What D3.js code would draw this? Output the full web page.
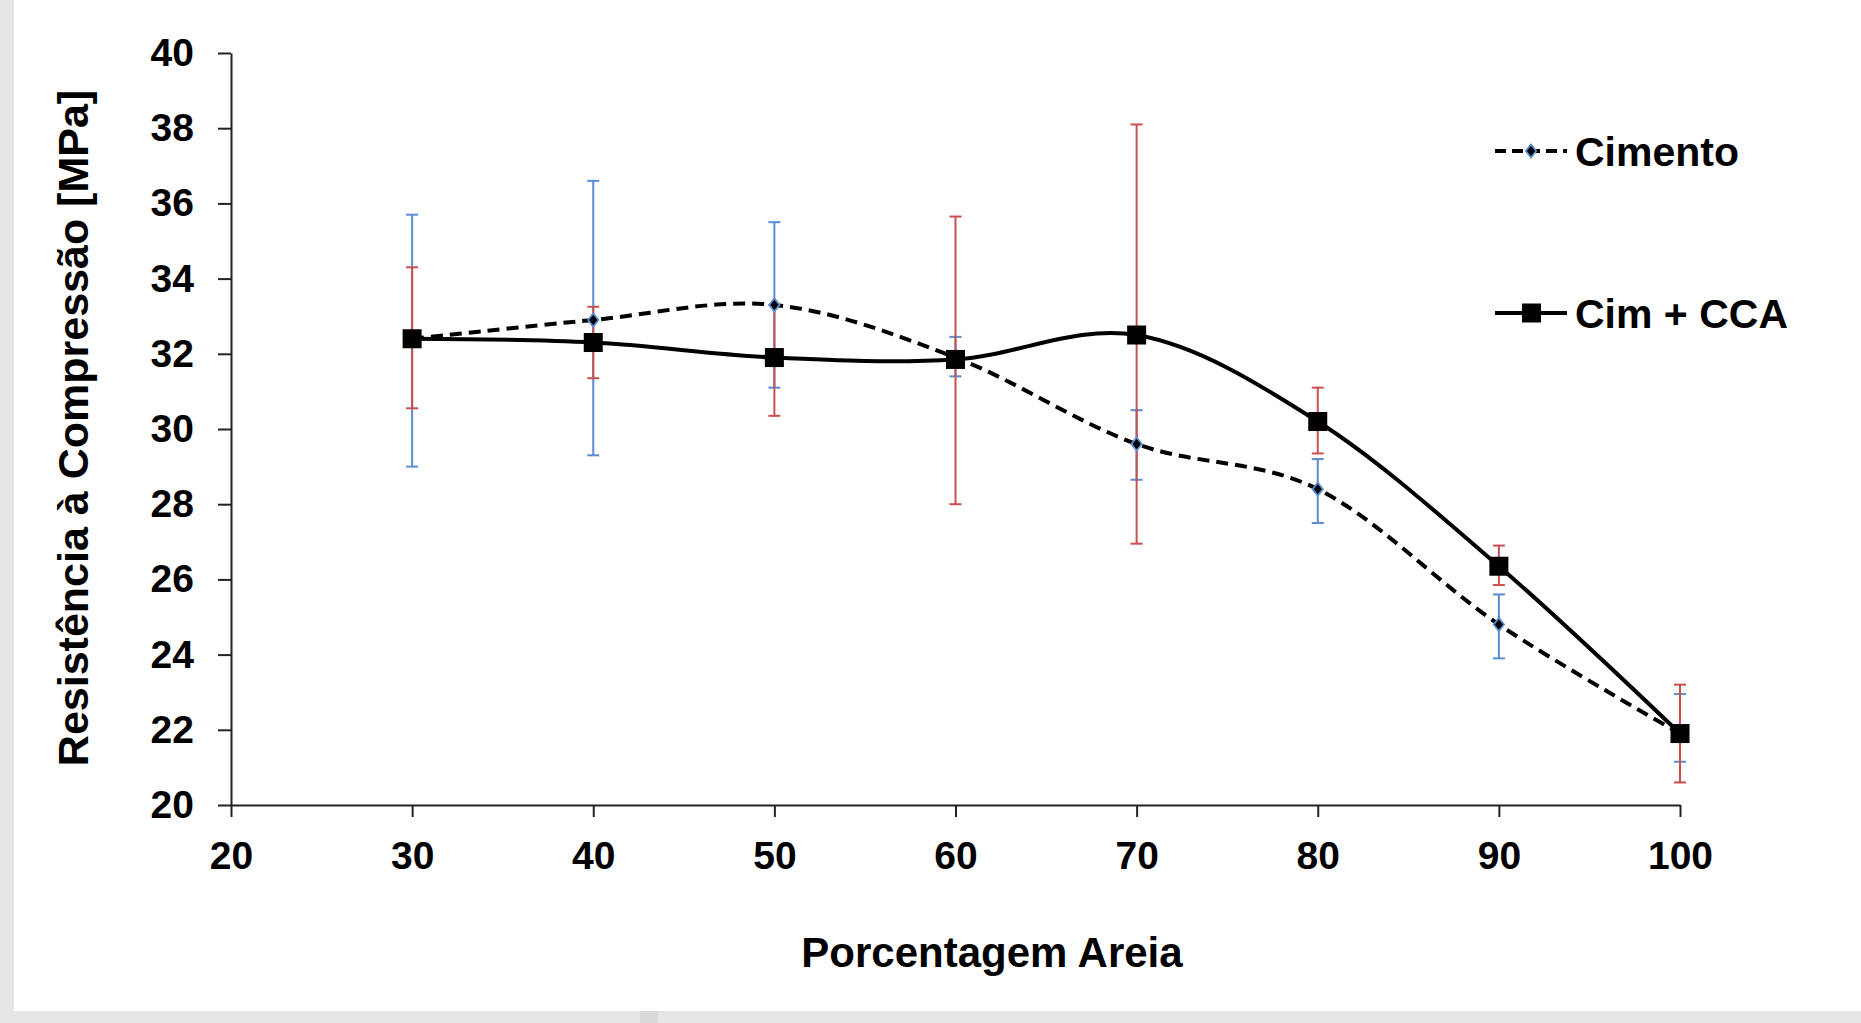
<!DOCTYPE html>
<html>
<head>
<meta charset="utf-8">
<script src="https://cdn.jsdelivr.net/npm/d3@7"></script>
<style>
  body { margin: 0; background: #fff; }
  text { font-family: "Liberation Sans", Arial, sans-serif; font-weight: bold; }
</style>
</head>
<body>
<div id="chart"></div>
<script>
// data
const percentages = [30, 40, 50, 60, 70, 80, 90, 100];

const cimento     = [32.4, 32.9, 33.3, 31.9, 29.6, 28.4, 24.8, 21.9];
const cimentoLow  = [29.0, 29.3, 31.1, 31.4, 28.65, 27.5, 23.9, 21.15];
const cimentoHigh = [35.7, 36.6, 35.5, 32.45, 30.5, 29.2, 25.6, 22.95];

const cimCca     = [32.4, 32.3, 31.9, 31.85, 32.5, 30.2, 26.35, 21.9];
const cimCcaLow  = [30.55, 31.35, 30.35, 28.0, 26.95, 29.35, 25.85, 20.6];
const cimCcaHigh = [34.3, 33.25, 33.3, 35.65, 38.1, 31.1, 26.9, 23.2];

const xTicks = [20, 30, 40, 50, 60, 70, 80, 90, 100];
const yTicks = [20, 22, 24, 26, 28, 30, 32, 34, 36, 38, 40];

const seriesNames = ["Cimento", "Cim + CCA"];

// layout
const width = 1861, height = 1023;
const plot = { left: 231, right: 1680, top: 53, bottom: 805 };

const svg = d3.select("#chart")
  .append("svg")
  .attr("width", width)
  .attr("height", height);

// grey frame (left + bottom strips of the screenshot)
svg.append("rect").attr("width", width).attr("height", height).attr("fill", "#e6e6e6");
svg.append("rect").attr("x", 640).attr("y", 1011).attr("width", 18).attr("height", 12).attr("fill", "#d9d9d9");
svg.append("rect").attr("x", 14).attr("y", 0).attr("width", width - 14).attr("height", 1011).attr("fill", "#fff");

const x = d3.scaleLinear().domain([20, 100]).range([plot.left, plot.right]);
const y = d3.scaleLinear().domain([20, 40]).range([plot.bottom, plot.top]);

// axes
const yAxis = svg.append("g")
  .attr("transform", "translate(" + plot.left + ",0)")
  .call(d3.axisLeft(y).tickValues(yTicks).tickSize(13).tickSizeOuter(0).tickPadding(24).tickFormat(d3.format("d")));

const xAxis = svg.append("g")
  .attr("transform", "translate(0," + plot.bottom + ")")
  .call(d3.axisBottom(x).tickValues(xTicks).tickSize(12).tickSizeOuter(0).tickPadding(24).tickFormat(d3.format("d")));

[yAxis, xAxis].forEach(a => {
  a.select(".domain").attr("stroke", "#222").attr("stroke-width", 2);
  a.selectAll(".tick line").attr("stroke", "#222").attr("stroke-width", 2);
  a.selectAll(".tick text")
    .attr("fill", "#000")
    .style("font-size", "39px")
    .style("font-family", "'Liberation Sans', Arial, sans-serif")
    .style("font-weight", "bold");
});

// axis titles
svg.append("text")
  .attr("x", 992)
  .attr("y", 967)
  .attr("text-anchor", "middle")
  .style("font-size", "42px")
  .text("Porcentagem Areia");

svg.append("text")
  .attr("transform", "translate(88,428) rotate(-90)")
  .attr("text-anchor", "middle")
  .style("font-size", "43px")
  .text("Resistência à Compressão [MPa]");

// error bars
function errorBars(low, high, color) {
  const g = svg.append("g").attr("stroke", color).attr("stroke-width", 2);
  percentages.forEach((p, i) => {
    const cx = x(p);
    g.append("line").attr("x1", cx).attr("x2", cx).attr("y1", y(low[i])).attr("y2", y(high[i]));
    g.append("line").attr("x1", cx - 6).attr("x2", cx + 6).attr("y1", y(low[i])).attr("y2", y(low[i]));
    g.append("line").attr("x1", cx - 6).attr("x2", cx + 6).attr("y1", y(high[i])).attr("y2", y(high[i]));
  });
}
errorBars(cimentoLow, cimentoHigh, "#5b8bd0");
errorBars(cimCcaLow, cimCcaHigh, "#c9504f");

// smoothed lines (Excel style)
const line = d3.line()
  .x(d => x(d[0]))
  .y(d => y(d[1]))
  .curve(d3.curveCardinal.tension(0));

svg.append("path")
  .datum(percentages.map((p, i) => [p, cimento[i]]))
  .attr("d", line)
  .attr("fill", "none")
  .attr("stroke", "#000")
  .attr("stroke-width", 4)
  .attr("stroke-dasharray", "12,7");

const diamond = s => "M0," + (-s) + "L" + (s * 0.8) + ",0L0," + s + "L" + (-s * 0.8) + ",0Z";

svg.append("g")
  .selectAll("path")
  .data(percentages.map((p, i) => [p, cimento[i]]))
  .join("path")
  .attr("transform", d => "translate(" + x(d[0]) + "," + y(d[1]) + ")")
  .attr("d", diamond(6.5))
  .attr("fill", "#000")
  .attr("stroke", "#5b8bd0")
  .attr("stroke-width", 1.8);

svg.append("path")
  .datum(percentages.map((p, i) => [p, cimCca[i]]))
  .attr("d", line)
  .attr("fill", "none")
  .attr("stroke", "#000")
  .attr("stroke-width", 4);

svg.append("g")
  .selectAll("rect")
  .data(percentages.map((p, i) => [p, cimCca[i]]))
  .join("rect")
  .attr("x", d => x(d[0]) - 9.5)
  .attr("y", d => y(d[1]) - 9.5)
  .attr("width", 19)
  .attr("height", 19)
  .attr("fill", "#000");

// legend
const legend = svg.append("g");
const legendY = [151, 313];

legend.append("line")
  .attr("x1", 1495).attr("x2", 1567).attr("y1", legendY[0]).attr("y2", legendY[0])
  .attr("stroke", "#000").attr("stroke-width", 4).attr("stroke-dasharray", "11,6");
legend.append("path")
  .attr("transform", "translate(1531," + legendY[0] + ")")
  .attr("d", diamond(6.5))
  .attr("fill", "#000").attr("stroke", "#5b8bd0").attr("stroke-width", 1.8);

legend.append("line")
  .attr("x1", 1495).attr("x2", 1567).attr("y1", legendY[1]).attr("y2", legendY[1])
  .attr("stroke", "#000").attr("stroke-width", 4);
legend.append("rect")
  .attr("x", 1522).attr("y", legendY[1] - 9.5).attr("width", 19).attr("height", 19)
  .attr("fill", "#000");

legend.selectAll("text")
  .data(seriesNames)
  .join("text")
  .attr("x", 1575)
  .attr("y", (d, i) => legendY[i] + 15)
  .style("font-size", "41px")
  .text(d => d);
</script>
</body>
</html>
